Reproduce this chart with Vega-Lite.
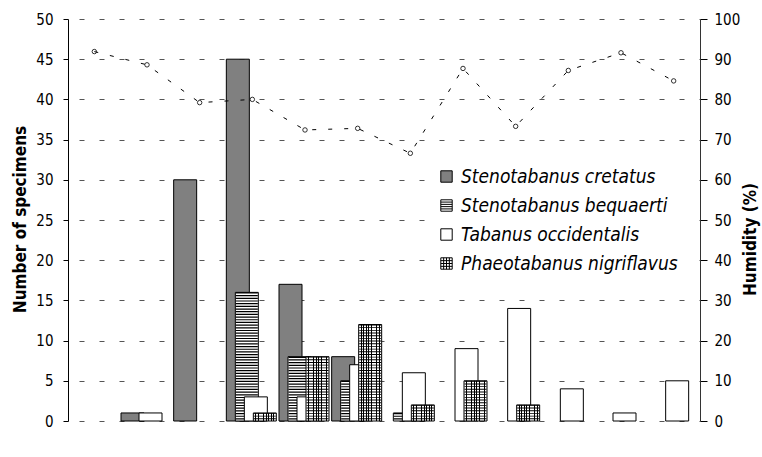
{
  "$schema": "https://vega.github.io/schema/vega-lite/v6.json",
  "width": 632,
  "height": 402,
  "autosize": {"type": "none"},
  "padding": {"left": 68, "top": 19, "right": 62, "bottom": 36},
  "background": "white",
  "config": {
    "view": {"stroke": null},
    "font": "DejaVu Sans Condensed",
    "axis": {"labelFont": "DejaVu Sans Condensed", "titleFont": "DejaVu Sans Condensed", "labelColor": "black", "titleColor": "black", "labelFontSize": 15, "titleFontSize": 17, "titleFontWeight": "bold", "domainColor": "black", "tickColor": "black", "domainWidth": 1, "tickWidth": 1}
  },
  "datasets": {
    "counts": [
      {"month": "May", "species": "Stenotabanus cretatus", "count": 1},
      {"month": "Jun", "species": "Stenotabanus cretatus", "count": 30},
      {"month": "Jul", "species": "Stenotabanus cretatus", "count": 45},
      {"month": "Aug", "species": "Stenotabanus cretatus", "count": 17},
      {"month": "Sept", "species": "Stenotabanus cretatus", "count": 8},
      {"month": "Jul", "species": "Stenotabanus bequaerti", "count": 16},
      {"month": "Aug", "species": "Stenotabanus bequaerti", "count": 8},
      {"month": "Sept", "species": "Stenotabanus bequaerti", "count": 5},
      {"month": "Oct", "species": "Stenotabanus bequaerti", "count": 1},
      {"month": "May", "species": "Tabanus occidentalis", "count": 1},
      {"month": "Jul", "species": "Tabanus occidentalis", "count": 3},
      {"month": "Aug", "species": "Tabanus occidentalis", "count": 3},
      {"month": "Sept", "species": "Tabanus occidentalis", "count": 7},
      {"month": "Oct", "species": "Tabanus occidentalis", "count": 6},
      {"month": "Nov", "species": "Tabanus occidentalis", "count": 9},
      {"month": "Dec", "species": "Tabanus occidentalis", "count": 14},
      {"month": "Jan", "species": "Tabanus occidentalis", "count": 4},
      {"month": "Feb", "species": "Tabanus occidentalis", "count": 1},
      {"month": "Mar", "species": "Tabanus occidentalis", "count": 5},
      {"month": "Jul", "species": "Phaeotabanus nigriflavus", "count": 1},
      {"month": "Aug", "species": "Phaeotabanus nigriflavus", "count": 8},
      {"month": "Sept", "species": "Phaeotabanus nigriflavus", "count": 12},
      {"month": "Oct", "species": "Phaeotabanus nigriflavus", "count": 2},
      {"month": "Nov", "species": "Phaeotabanus nigriflavus", "count": 5},
      {"month": "Dec", "species": "Phaeotabanus nigriflavus", "count": 2}
    ],
    "humidity": [
      {"month": "Apr", "humidity": 91.9},
      {"month": "May", "humidity": 88.6},
      {"month": "Jun", "humidity": 79.2},
      {"month": "Jul", "humidity": 80.0},
      {"month": "Aug", "humidity": 72.4},
      {"month": "Sept", "humidity": 72.8},
      {"month": "Oct", "humidity": 66.6},
      {"month": "Nov", "humidity": 87.7},
      {"month": "Dec", "humidity": 73.3},
      {"month": "Jan", "humidity": 87.2},
      {"month": "Feb", "humidity": 91.6},
      {"month": "Mar", "humidity": 84.6}
    ]
  },
  "layer": [
    {
      "data": {"name": "counts"},
      "encoding": {
        "x": {
          "field": "month", "type": "ordinal",
          "sort": ["Apr", "May", "Jun", "Jul", "Aug", "Sept", "Oct", "Nov", "Dec", "Jan", "Feb", "Mar"],
          "scale": {"domain": ["Apr", "May", "Jun", "Jul", "Aug", "Sept", "Oct", "Nov", "Dec", "Jan", "Feb", "Mar"], "paddingInner": 0, "paddingOuter": 0},
          "axis": {"title": null, "labelAngle": 0, "tickBand": "extent", "tickSize": 5, "labelPadding": 10, "grid": false}
        },
        "y": {
          "field": "count", "type": "quantitative",
          "scale": {"domain": [0, 50], "nice": false},
          "axis": {"title": "Number of specimens", "values": [0, 5, 10, 15, 20, 25, 30, 35, 40, 45, 50], "tickSize": 5, "labelPadding": 10, "titlePadding": 6, "titleY": 200, "grid": true, "gridDash": [5, 15], "gridDashOffset": 9, "gridColor": "#555", "gridOpacity": 1}
        }
      },
      "layer": [
        {
          "transform": [{"filter": "datum.species === 'Stenotabanus cretatus'"}],
          "mark": {"type": "bar", "width": 23, "xOffset": -14.5, "stroke": "black", "strokeWidth": 1},
          "encoding": {
            "fill": {
              "field": "species", "type": "nominal",
              "scale": {"domain": ["Stenotabanus cretatus", "Stenotabanus bequaerti", "Tabanus occidentalis", "Phaeotabanus nigriflavus"], "range": ["#808080", "#ffffff", "#ffffff", "#ffffff"]},
              "legend": {
                "orient": "none", "legendX": 361, "legendY": 140, "title": null,
                "fillColor": "white", "padding": 8,
                "symbolType": "square", "symbolSize": 130, "symbolStrokeColor": "black", "symbolStrokeWidth": 1, "symbolOpacity": 1,
                "labelFont": "DejaVu Sans Condensed", "labelFontSize": 19, "labelFontStyle": "italic", "labelColor": "black",
                "labelOffset": 5, "rowPadding": 9, "labelLimit": 0,
                "encode": {
                  "symbols": {
                    "update": {
                      "stroke": {"value": "black"},
                      "strokeWidth": {"value": 1},
                      "opacity": {"value": 1},
                      "fillOpacity": {"value": 1},
                      "shape": {"signal": "datum.value === 'Stenotabanus bequaerti' ? 'M-1,-1H1V1H-1Z M-1,-0.6H1 M-1,-0.2H1 M-1,0.2H1 M-1,0.6H1' : datum.value === 'Phaeotabanus nigriflavus' ? 'M-1,-1H1V1H-1Z M-1,-0.5H1 M-1,0H1 M-1,0.5H1 M-0.5,-1V1 M0,-1V1 M0.5,-1V1' : 'square'"}
                    }
                  }
                }
              }
            }
          }
        },
        {
          "transform": [{"filter": "datum.species === 'Stenotabanus bequaerti'"}],
          "mark": {"type": "bar", "width": 23, "xOffset": -5.5, "stroke": "black", "strokeWidth": 1},
          "encoding": {"fill": {"field": "species", "type": "nominal"}}
        },
        {
          "transform": [{"filter": "datum.species === 'Stenotabanus bequaerti'"}],
          "mark": {"type": "rule", "xOffset": -5.5, "strokeWidth": 22, "strokeDash": [1.2, 1.48], "color": "black"},
          "encoding": {"y2": {"datum": 0}}
        },
        {
          "transform": [{"filter": "datum.species === 'Tabanus occidentalis'"}],
          "mark": {"type": "bar", "width": 23, "xOffset": 3.5, "stroke": "black", "strokeWidth": 1},
          "encoding": {"fill": {"field": "species", "type": "nominal"}}
        },
        {
          "transform": [{"filter": "datum.species === 'Phaeotabanus nigriflavus'"}],
          "mark": {"type": "bar", "width": 23, "xOffset": 12.5, "stroke": "black", "strokeWidth": 1,
            "fill": {"gradient": "linear", "x1": 0, "y1": 0, "x2": 1, "y2": 0, "stops": [
              {"offset": 0, "color": "white"},
              {"offset": 0.094, "color": "white"}, {"offset": 0.094, "color": "black"}, {"offset": 0.128, "color": "black"}, {"offset": 0.128, "color": "white"},
              {"offset": 0.205, "color": "white"}, {"offset": 0.205, "color": "black"}, {"offset": 0.239, "color": "black"}, {"offset": 0.239, "color": "white"},
              {"offset": 0.316, "color": "white"}, {"offset": 0.316, "color": "black"}, {"offset": 0.35, "color": "black"}, {"offset": 0.35, "color": "white"},
              {"offset": 0.427, "color": "white"}, {"offset": 0.427, "color": "black"}, {"offset": 0.461, "color": "black"}, {"offset": 0.461, "color": "white"},
              {"offset": 0.539, "color": "white"}, {"offset": 0.539, "color": "black"}, {"offset": 0.573, "color": "black"}, {"offset": 0.573, "color": "white"},
              {"offset": 0.65, "color": "white"}, {"offset": 0.65, "color": "black"}, {"offset": 0.684, "color": "black"}, {"offset": 0.684, "color": "white"},
              {"offset": 0.761, "color": "white"}, {"offset": 0.761, "color": "black"}, {"offset": 0.795, "color": "black"}, {"offset": 0.795, "color": "white"},
              {"offset": 0.872, "color": "white"}, {"offset": 0.872, "color": "black"}, {"offset": 0.906, "color": "black"}, {"offset": 0.906, "color": "white"},
              {"offset": 1, "color": "white"}]}},
          "encoding": {}
        },
        {
          "transform": [{"filter": "datum.species === 'Phaeotabanus nigriflavus'"}],
          "mark": {"type": "rule", "xOffset": 12.5, "strokeWidth": 22, "strokeDash": [0.9, 1.78], "color": "black"},
          "encoding": {"y2": {"datum": 0}}
        }
      ]
    },
    {
      "data": {"name": "humidity"},
      "encoding": {
        "x": {"field": "month", "type": "ordinal", "sort": ["Apr", "May", "Jun", "Jul", "Aug", "Sept", "Oct", "Nov", "Dec", "Jan", "Feb", "Mar"], "axis": null},
        "y": {
          "field": "humidity", "type": "quantitative",
          "scale": {"domain": [0, 100], "nice": false},
          "axis": {"orient": "right", "title": "Humidity (%)", "values": [0, 10, 20, 30, 40, 50, 60, 70, 80, 90, 100], "tickSize": 7, "labelPadding": 7, "titlePadding": 20, "titleAngle": 270, "titleY": 220, "grid": false, "domainColor": "#333"}
        }
      },
      "layer": [
        {"mark": {"type": "line", "strokeDash": [4, 12], "color": "black", "strokeWidth": 1}, "encoding": {}},
        {"mark": {"type": "point", "shape": "circle", "size": 20, "filled": false, "color": "black", "strokeWidth": 0.8, "opacity": 1}, "encoding": {}}
      ]
    }
  ],
  "resolve": {"scale": {"y": "independent"}}
}
